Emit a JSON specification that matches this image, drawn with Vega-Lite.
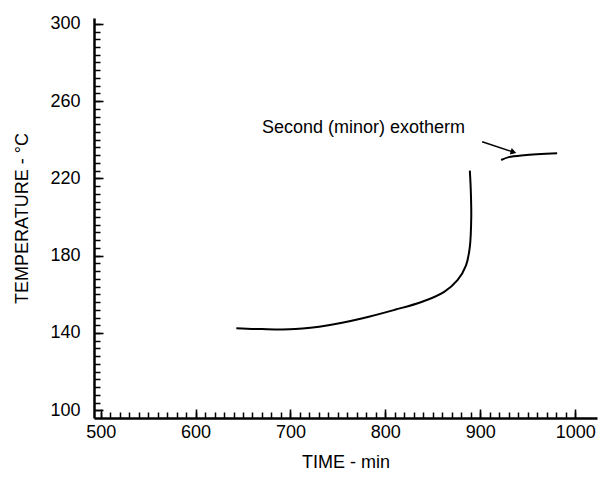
{
  "$schema": "https://vega.github.io/schema/vega-lite/v6.json",
  "width": 503,
  "height": 400,
  "autosize": "none",
  "padding": {"left": 94, "top": 18, "right": 19, "bottom": 69},
  "background": "white",
  "config": {
    "view": {"stroke": null},
    "font": "Liberation Sans",
    "axis": {"grid": false, "domainColor": "black", "domainWidth": 2.5, "tickColor": "black", "labelColor": "black", "titleColor": "black", "labelFontSize": 18, "titleFontSize": 18, "titleFontWeight": "normal", "labelFont": "Liberation Sans", "titleFont": "Liberation Sans"}
  },
  "datasets": {
    "curve": [
      {"seg": "main", "i": 1, "time": 643, "temp": 142.5},
      {"seg": "main", "i": 2, "time": 670, "temp": 142.0},
      {"seg": "main", "i": 3, "time": 705, "temp": 142.0},
      {"seg": "main", "i": 4, "time": 740, "temp": 144.0},
      {"seg": "main", "i": 5, "time": 775, "temp": 147.5},
      {"seg": "main", "i": 6, "time": 810, "temp": 152.0},
      {"seg": "main", "i": 7, "time": 838, "temp": 156.0},
      {"seg": "main", "i": 8, "time": 862, "temp": 161.3},
      {"seg": "main", "i": 9, "time": 876, "temp": 167.3},
      {"seg": "main", "i": 10, "time": 885, "temp": 175.0},
      {"seg": "main", "i": 11, "time": 889, "temp": 184.6},
      {"seg": "main", "i": 12, "time": 890.5, "temp": 200.0},
      {"seg": "main", "i": 13, "time": 890, "temp": 214.0},
      {"seg": "main", "i": 14, "time": 889, "temp": 224.0},
      {"seg": "minor", "i": 15, "time": 922, "temp": 229.5},
      {"seg": "minor", "i": 16, "time": 930, "temp": 231.0},
      {"seg": "minor", "i": 17, "time": 946, "temp": 232.0},
      {"seg": "minor", "i": 18, "time": 981, "temp": 233.0}
    ],
    "arrow": [
      {"time": 902, "temp": 239, "time2": 935, "temp2": 233.6}
    ],
    "label": [
      {"time": 670, "temp": 246, "text": "Second (minor) exotherm"}
    ]
  },
  "layer": [
    {
      "data": {"name": "curve"},
      "mark": {"type": "line", "color": "black", "strokeWidth": 2, "interpolate": "catmull-rom"},
      "encoding": {
        "x": {"field": "time", "type": "quantitative", "scale": {"domain": [493, 1023], "nice": false, "zero": false},
          "axis": {"title": "TIME - min", "orient": "bottom", "values": [500, 600, 700, 800, 900, 1000], "format": "d", "tickSize": -9, "tickWidth": 1.6, "labelPadding": 14, "titlePadding": 12, "labelFlush": false}},
        "y": {"field": "temp", "type": "quantitative", "scale": {"domain": [96, 303], "nice": false, "zero": false},
          "axis": {"title": "TEMPERATURE - °C", "orient": "left", "values": [100, 140, 180, 220, 260, 300], "format": "d", "tickSize": -9, "tickWidth": 1.6, "labelPadding": 23, "titlePadding": 18, "labelFlush": false}},
        "detail": {"field": "seg", "type": "nominal"},
        "order": {"field": "i", "type": "quantitative"}
      }
    },
    {
      "data": {"name": "arrow"},
      "mark": {"type": "rule", "color": "black", "strokeWidth": 1.5},
      "encoding": {
        "x": {"field": "time", "type": "quantitative",
          "axis": {"title": null, "orient": "bottom", "labels": false, "domain": false, "ticks": true, "tickSize": -6, "tickWidth": 1.5, "tickColor": "black",
            "values": [500,510,520,530,540,550,560,570,580,590,600,610,620,630,640,650,660,670,680,690,700,710,720,730,740,750,760,770,780,790,800,810,820,830,840,850,860,870,880,890,900,910,920,930,940,950,960,970,980,990,1000]}},
        "y": {"field": "temp", "type": "quantitative",
          "axis": {"title": null, "orient": "left", "labels": false, "domain": false, "ticks": true, "tickSize": -6, "tickWidth": 1.5, "tickColor": "black",
            "values": [100,104,108,112,116,120,124,128,132,136,140,144,148,152,156,160,164,168,172,176,180,184,188,192,196,200,204,208,212,216,220,224,228,232,236,240,244,248,252,256,260,264,268,272,276,280,284,288,292,296,300]}},
        "x2": {"field": "time2"},
        "y2": {"field": "temp2"}
      }
    },
    {
      "data": {"name": "arrow"},
      "mark": {"type": "point", "shape": "triangle-right", "filled": true, "color": "black", "size": 45, "angle": 17, "opacity": 1},
      "encoding": {
        "x": {"field": "time2", "type": "quantitative", "axis": null},
        "y": {"field": "temp2", "type": "quantitative", "axis": null}
      }
    },
    {
      "data": {"name": "label"},
      "mark": {"type": "text", "align": "left", "baseline": "middle", "fontSize": 18, "font": "Liberation Sans", "color": "black"},
      "encoding": {
        "x": {"field": "time", "type": "quantitative", "axis": null},
        "y": {"field": "temp", "type": "quantitative", "axis": null},
        "text": {"field": "text"}
      }
    }
  ],
  "resolve": {"axis": {"x": "independent", "y": "independent"}}
}
